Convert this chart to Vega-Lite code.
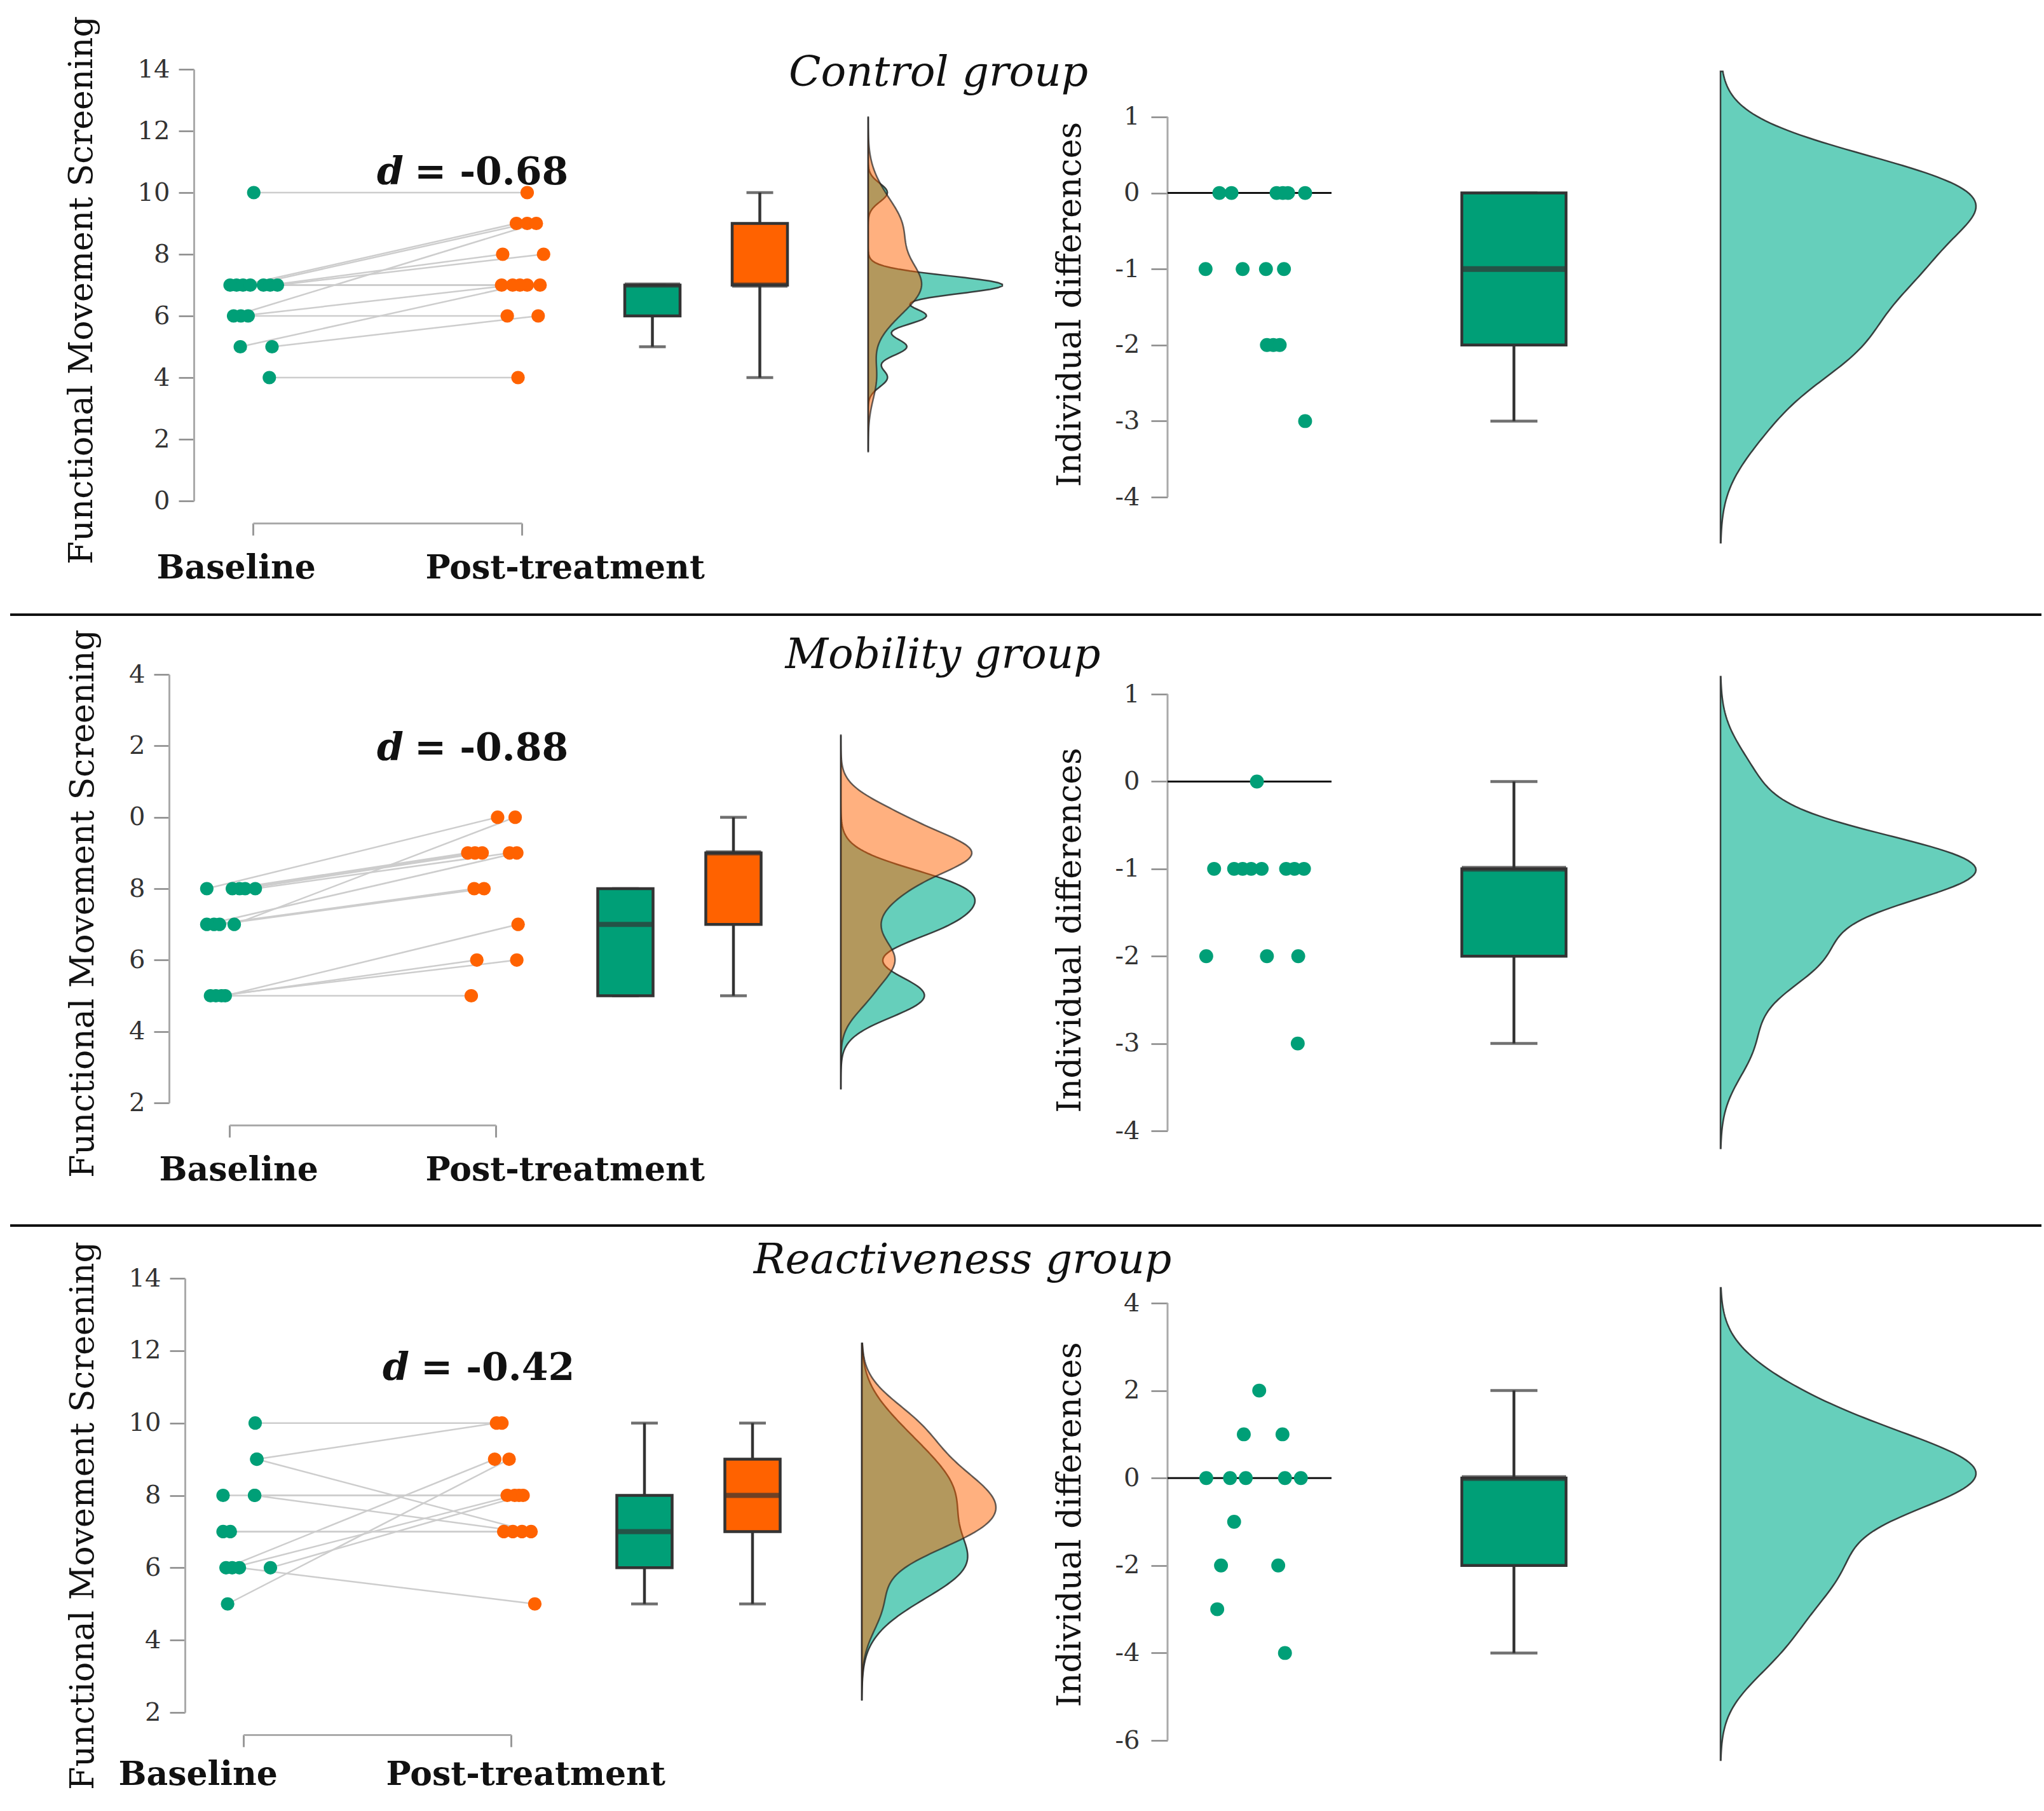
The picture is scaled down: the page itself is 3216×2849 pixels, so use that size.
{
"$schema": "https://vega.github.io/schema/vega-lite/v6.json",
"background": "white",
"padding": {"left": 14, "top": 0, "right": 0, "bottom": 0},
"config": {
 "view": {"stroke": null},
 "font": "DejaVu Serif",
 "axis": {"grid": false, "labelFont": "DejaVu Serif", "titleFont": "DejaVu Serif", "labelColor": "#333333", "titleColor": "#111111", "tickColor": "#888888", "tickWidth": 2.5, "domainColor": "#AAAAAA", "domainWidth": 3, "labelFlush": false, "labelOverlap": false, "labelBound": false, "labelLimit": 0},
 "axisY": {"labelFontSize": 40, "tickSize": 24, "labelPadding": 14, "titleFontSize": 52, "titleFontWeight": "normal", "titleAngle": -90, "titleBaseline": "middle", "titleAlign": "center"},
 "axisX": {"labelFontSize": 52, "labelFontWeight": "bold", "labelColor": "#111111", "labelPadding": 26, "tickSize": 19, "tickWidth": 3, "tickColor": "#999999", "labelAlign": "left"},
 "title": {"font": "DejaVu Serif", "fontSize": 66, "fontStyle": "italic", "fontWeight": "normal", "color": "#111111", "anchor": "middle"}
},
"datasets": {
 "ctrl": [
  {"id":"c1","time":"Baseline","x":1.003,"v":10},{"id":"c1","time":"Post","x":2.02,"v":10},
  {"id":"c2","time":"Baseline","x":1.061,"v":4},{"id":"c2","time":"Post","x":1.986,"v":4},
  {"id":"c3","time":"Baseline","x":0.915,"v":7},{"id":"c3","time":"Post","x":1.925,"v":7},
  {"id":"c4","time":"Baseline","x":0.939,"v":7},{"id":"c4","time":"Post","x":2.02,"v":7},
  {"id":"c5","time":"Baseline","x":0.982,"v":6},{"id":"c5","time":"Post","x":1.946,"v":6},
  {"id":"c6","time":"Baseline","x":1.039,"v":7},{"id":"c6","time":"Post","x":2.068,"v":7},
  {"id":"c7","time":"Baseline","x":1.064,"v":7},{"id":"c7","time":"Post","x":1.929,"v":8},
  {"id":"c8","time":"Baseline","x":0.955,"v":6},{"id":"c8","time":"Post","x":1.966,"v":7},
  {"id":"c9","time":"Baseline","x":1.071,"v":5},{"id":"c9","time":"Post","x":2.061,"v":6},
  {"id":"c10","time":"Baseline","x":1.091,"v":7},{"id":"c10","time":"Post","x":2.081,"v":8},
  {"id":"c11","time":"Baseline","x":0.963,"v":7},{"id":"c11","time":"Post","x":1.98,"v":9},
  {"id":"c12","time":"Baseline","x":0.99,"v":7},{"id":"c12","time":"Post","x":2.02,"v":9},
  {"id":"c13","time":"Baseline","x":0.953,"v":5},{"id":"c13","time":"Post","x":1.993,"v":7},
  {"id":"c14","time":"Baseline","x":0.928,"v":6},{"id":"c14","time":"Post","x":2.054,"v":9}
 ],
 "ctrlDiff": [
  {"id":"c1","x":0.316,"d":0},{"id":"c2","x":0.39,"d":0},{"id":"c3","x":0.665,"d":0},{"id":"c4","x":0.703,"d":0},{"id":"c5","x":0.735,"d":0},{"id":"c6","x":0.839,"d":0},
  {"id":"c7","x":0.232,"d":-1},{"id":"c8","x":0.458,"d":-1},{"id":"c9","x":0.6,"d":-1},{"id":"c10","x":0.71,"d":-1},
  {"id":"c11","x":0.606,"d":-2},{"id":"c12","x":0.645,"d":-2},{"id":"c13","x":0.684,"d":-2},{"id":"c14","x":0.839,"d":-3}
 ],
 "ctrlBox": [{"time":"Baseline","lo":5,"q1":6,"med":7,"q3":7,"hi":7},{"time":"Post","lo":4,"q1":7,"med":7,"q3":9,"hi":10}],
 "ctrlDiffBox": [{"g":"Differences","lo":-3,"q1":-2,"med":-1,"q3":0,"hi":0}],
 "mob": [
  {"id":"m1","time":"Baseline","x":0.915,"v":8},{"id":"m1","time":"Post","x":2.007,"v":10},
  {"id":"m2","time":"Baseline","x":1.011,"v":8},{"id":"m2","time":"Post","x":1.895,"v":9},
  {"id":"m3","time":"Baseline","x":1.038,"v":8},{"id":"m3","time":"Post","x":1.922,"v":9},
  {"id":"m4","time":"Baseline","x":1.059,"v":8},{"id":"m4","time":"Post","x":1.949,"v":9},
  {"id":"m5","time":"Baseline","x":1.097,"v":8},{"id":"m5","time":"Post","x":2.052,"v":9},
  {"id":"m6","time":"Baseline","x":1.018,"v":7},{"id":"m6","time":"Post","x":2.073,"v":10},
  {"id":"m7","time":"Baseline","x":0.915,"v":7},{"id":"m7","time":"Post","x":2.079,"v":9},
  {"id":"m8","time":"Baseline","x":0.942,"v":7},{"id":"m8","time":"Post","x":1.919,"v":8},
  {"id":"m9","time":"Baseline","x":0.963,"v":7},{"id":"m9","time":"Post","x":1.956,"v":8},
  {"id":"m10","time":"Baseline","x":0.984,"v":5},{"id":"m10","time":"Post","x":2.084,"v":7},
  {"id":"m11","time":"Baseline","x":0.97,"v":5},{"id":"m11","time":"Post","x":1.929,"v":6},
  {"id":"m12","time":"Baseline","x":0.949,"v":5},{"id":"m12","time":"Post","x":2.079,"v":6},
  {"id":"m13","time":"Baseline","x":0.929,"v":5},{"id":"m13","time":"Post","x":1.908,"v":5}
 ],
 "mobDiff": [
  {"id":"m13","x":0.545,"d":0},
  {"id":"m2","x":0.284,"d":-1},{"id":"m3","x":0.406,"d":-1},{"id":"m4","x":0.458,"d":-1},{"id":"m5","x":0.51,"d":-1},{"id":"m8","x":0.574,"d":-1},{"id":"m9","x":0.723,"d":-1},{"id":"m11","x":0.774,"d":-1},{"id":"m12","x":0.832,"d":-1},
  {"id":"m1","x":0.236,"d":-2},{"id":"m7","x":0.606,"d":-2},{"id":"m10","x":0.797,"d":-2},
  {"id":"m6","x":0.794,"d":-3}
 ],
 "mobBox": [{"time":"Baseline","lo":5,"q1":5,"med":7,"q3":8,"hi":8},{"time":"Post","lo":5,"q1":7,"med":9,"q3":9,"hi":10}],
 "mobDiffBox": [{"g":"Differences","lo":-3,"q1":-2,"med":-1,"q3":-1,"hi":0}],
 "reac": [
  {"id":"r1","time":"Baseline","x":1.044,"v":10},{"id":"r1","time":"Post","x":1.966,"v":10},
  {"id":"r2","time":"Baseline","x":1.05,"v":9},{"id":"r2","time":"Post","x":1.946,"v":10},
  {"id":"r3","time":"Baseline","x":1.05,"v":9},{"id":"r3","time":"Post","x":2.075,"v":7},
  {"id":"r4","time":"Baseline","x":0.924,"v":8},{"id":"r4","time":"Post","x":1.986,"v":8},
  {"id":"r5","time":"Baseline","x":1.042,"v":8},{"id":"r5","time":"Post","x":2.041,"v":7},
  {"id":"r6","time":"Baseline","x":1.042,"v":8},{"id":"r6","time":"Post","x":2.03,"v":8},
  {"id":"r7","time":"Baseline","x":0.924,"v":7},{"id":"r7","time":"Post","x":1.973,"v":7},
  {"id":"r8","time":"Baseline","x":0.951,"v":7},{"id":"r8","time":"Post","x":2.007,"v":7},
  {"id":"r9","time":"Baseline","x":0.935,"v":6},{"id":"r9","time":"Post","x":1.939,"v":9},
  {"id":"r10","time":"Baseline","x":0.958,"v":6},{"id":"r10","time":"Post","x":2.014,"v":8},
  {"id":"r11","time":"Baseline","x":1.101,"v":6},{"id":"r11","time":"Post","x":2.045,"v":8},
  {"id":"r12","time":"Baseline","x":0.941,"v":5},{"id":"r12","time":"Post","x":1.993,"v":9},
  {"id":"r13","time":"Baseline","x":0.985,"v":6},{"id":"r13","time":"Post","x":2.089,"v":5}
 ],
 "reacDiff": [
  {"id":"r3","x":0.559,"d":2},
  {"id":"r5","x":0.465,"d":1},{"id":"r13","x":0.701,"d":1},
  {"id":"r1","x":0.236,"d":0},{"id":"r4","x":0.381,"d":0},{"id":"r6","x":0.477,"d":0},{"id":"r7","x":0.716,"d":0},{"id":"r8","x":0.813,"d":0},
  {"id":"r2","x":0.406,"d":-1},
  {"id":"r10","x":0.326,"d":-2},{"id":"r11","x":0.675,"d":-2},
  {"id":"r9","x":0.303,"d":-3},
  {"id":"r12","x":0.716,"d":-4}
 ],
 "reacBox": [{"time":"Baseline","lo":5,"q1":6,"med":7,"q3":8,"hi":10},{"time":"Post","lo":5,"q1":7,"med":8,"q3":9,"hi":10}],
 "reacDiffBox": [{"g":"Differences","lo":-4,"q1":-2,"med":0,"q3":0,"hi":2}],
 "zero": [{"ref": 0}],
 "rng41": [{"lo": -4, "hi": 1}],
 "rng64": [{"lo": -6, "hi": 4}],
 "sep": [{"s": 0}],
 "blank": [{"a": 0}]
},
"spacing": 20,
"vconcat": [
 {"width": 3196, "height": 4, "data": {"name": "blank"}, "mark": {"type": "point", "opacity": 0, "size": 1}, "encoding": {"x": {"field": "a", "type": "quantitative", "axis": null}}},
 {"hconcat": [
  {"width": 382, "height": 1, "data": {"name": "blank"}, "mark": {"type": "point", "opacity": 0, "size": 1}, "encoding": {"x": {"field": "a", "type": "quantitative", "axis": null}},
   "title": {"text": "d", "anchor": "end", "frame": "group", "dx": 237, "offset": -194, "fontStyle": "italic", "fontWeight": "bold", "fontSize": 60}},
  {"width": 423, "height": 679, "data": {"name": "ctrl"}, "layer": [
   {"mark": {"type": "line", "color": "#CDCDCD", "strokeWidth": 2.5},
    "encoding": {
     "x": {"field": "x", "type": "quantitative", "scale": {"domain": [1, 2], "nice": false, "zero": false},
       "axis": {"values": [1, 2], "offset": 35, "labelExpr": "datum.value == 1 ? 'Baseline' : 'Post-treatment'", "labelOffset": -152, "title": null}},
     "y": {"field": "v", "type": "quantitative", "scale": {"domain": [0, 14], "nice": false, "zero": false},
       "axis": {"values": [0, 2, 4, 6, 8, 10, 12, 14], "labelExpr": "toString(datum.value)", "offset": 93, "title": "Functional Movement Screening", "titleX": -177, "titleY": 347}},
     "detail": {"field": "id", "type": "nominal"},
     "order": {"field": "x", "type": "quantitative"}}},
   {"mark": {"type": "circle", "size": 450, "opacity": 1},
    "encoding": {"x": {"field": "x", "type": "quantitative"}, "y": {"field": "v", "type": "quantitative"},
     "color": {"field": "time", "type": "nominal", "scale": {"domain": ["Baseline", "Post"], "range": ["#009F77", "#FF6200"]}, "legend": null}}}
  ]},
  {"width": 121, "height": 1, "data": {"name": "blank"}, "mark": {"type": "point", "opacity": 0, "size": 1}, "encoding": {"x": {"field": "a", "type": "quantitative", "axis": null}},
   "title": {"text": "= -0.68", "anchor": "start", "frame": "group", "dx": -169, "offset": -194, "fontStyle": "normal", "fontWeight": "bold", "fontSize": 60}},
  {"width": 338, "height": 679, "data": {"name": "ctrlBox"},
   "encoding": {"x": {"field": "time", "type": "nominal", "scale": {"type": "band", "domain": ["Baseline", "Post"], "paddingInner": 0.4852, "paddingOuter": 0.2426}, "axis": null}},
   "layer": [
    {"mark": {"type": "rule", "color": "#333333", "strokeWidth": 4.5}, "encoding": {"y": {"field": "lo", "type": "quantitative", "scale": {"domain": [0, 14], "nice": false, "zero": false}, "axis": null}, "y2": {"field": "hi"}}},
    {"mark": {"type": "tick", "color": "#333333", "thickness": 4.5, "size": 42}, "encoding": {"y": {"field": "lo", "type": "quantitative"}}},
    {"mark": {"type": "tick", "color": "#333333", "thickness": 4.5, "size": 42}, "encoding": {"y": {"field": "hi", "type": "quantitative"}}},
    {"mark": {"type": "bar", "stroke": "#333333", "strokeWidth": 4.5}, "encoding": {"y": {"field": "q1", "type": "quantitative"}, "y2": {"field": "q3"}, "color": {"field": "time", "type": "nominal", "scale": {"domain": ["Baseline", "Post"], "range": ["#009F77", "#FF6200"]}, "legend": null}}},
    {"mark": {"type": "tick", "color": "#333333", "thickness": 8, "size": 87}, "encoding": {"y": {"field": "med", "type": "quantitative"}}}
   ]},
  {"width": 86, "height": 1, "data": {"name": "blank"}, "mark": {"type": "point", "opacity": 0, "size": 1}, "encoding": {"x": {"field": "a", "type": "quantitative", "axis": null}}},
  {"width": 211, "height": 679, "data": {"name": "ctrl"},
   "title": {"text": "Control group", "offset": -40, "dx": 5},
   "layer": [
    {"transform": [{"filter": "datum.time == 'Baseline'"}, {"density": "v", "bandwidth": 0.3, "extent": [1.6, 12.45], "steps": 200, "as": ["v", "dens"]}],
     "mark": {"type": "area", "orient": "horizontal", "fill": "#00AF8E", "fillOpacity": 0.6, "stroke": "#222222", "strokeWidth": 2.5, "strokeOpacity": 0.85},
     "encoding": {"x": {"field": "dens", "type": "quantitative", "scale": {"zero": true, "nice": false}, "axis": null}, "y": {"field": "v", "type": "quantitative", "scale": {"domain": [0, 14], "nice": false, "zero": false}, "axis": null}}},
    {"transform": [{"filter": "datum.time == 'Post'"}, {"density": "v", "bandwidth": 0.7, "extent": [1.6, 12.45], "steps": 200, "as": ["v", "dens"]}],
     "mark": {"type": "area", "orient": "horizontal", "fill": "#FF6200", "fillOpacity": 0.5, "stroke": "#222222", "strokeWidth": 2.5, "strokeOpacity": 0.7},
     "encoding": {"x": {"field": "dens", "type": "quantitative"}, "y": {"field": "v", "type": "quantitative"}}}
   ]},
  {"width": 260, "height": 1, "data": {"name": "blank"}, "mark": {"type": "point", "opacity": 0, "size": 1}, "encoding": {"x": {"field": "a", "type": "quantitative", "axis": null}}},
  {"width": 258, "height": 673, "layer": [
    {"data": {"name": "rng41"}, "mark": {"type": "rule", "color": "#AAAAAA", "strokeWidth": 3}, "encoding": {"x": {"value": 0}, "y": {"field": "lo", "type": "quantitative", "scale": {"domain": [-4, 1.627], "nice": false, "zero": false}, "axis": {"values": [-4, -3, -2, -1, 0, 1], "labelExpr": "toString(datum.value)", "domain": false, "tickSize": 26, "labelPadding": 18, "title": "Individual differences", "titleX": -154, "titleY": 369.5}}, "y2": {"field": "hi"}}},
    {"data": {"name": "zero"}, "mark": {"type": "rule", "color": "#111111", "strokeWidth": 3}, "encoding": {"y": {"field": "ref", "type": "quantitative"}}},
    {"data": {"name": "ctrlDiff"}, "mark": {"type": "circle", "size": 480, "opacity": 1, "color": "#009F77"},
     "encoding": {"x": {"field": "x", "type": "quantitative", "scale": {"domain": [0, 1], "nice": false, "zero": false}, "axis": null},
      "y": {"field": "d", "type": "quantitative"}}}
  ]},
  {"width": 137, "height": 1, "data": {"name": "blank"}, "mark": {"type": "point", "opacity": 0, "size": 1}, "encoding": {"x": {"field": "a", "type": "quantitative", "axis": null}}},
  {"width": 300, "height": 673, "data": {"name": "ctrlDiffBox"},
   "encoding": {"x": {"field": "g", "type": "nominal", "scale": {"type": "band", "paddingInner": 0, "paddingOuter": 0.4146}, "axis": null}},
   "layer": [
    {"mark": {"type": "rule", "color": "#333333", "strokeWidth": 4.5}, "encoding": {"y": {"field": "lo", "type": "quantitative", "scale": {"domain": [-4, 1.627], "nice": false, "zero": false}, "axis": null}, "y2": {"field": "hi"}}},
    {"mark": {"type": "tick", "color": "#333333", "thickness": 4.5, "size": 74}, "encoding": {"y": {"field": "lo", "type": "quantitative"}}},
    {"mark": {"type": "tick", "color": "#333333", "thickness": 4.5, "size": 74}, "encoding": {"y": {"field": "hi", "type": "quantitative"}}},
    {"mark": {"type": "bar", "stroke": "#333333", "strokeWidth": 4.5, "color": "#009F77"}, "encoding": {"y": {"field": "q1", "type": "quantitative"}, "y2": {"field": "q3"}}},
    {"mark": {"type": "tick", "color": "#333333", "thickness": 9, "size": 164}, "encoding": {"y": {"field": "med", "type": "quantitative"}}}
   ]},
  {"width": 175, "height": 1, "data": {"name": "blank"}, "mark": {"type": "point", "opacity": 0, "size": 1}, "encoding": {"x": {"field": "a", "type": "quantitative", "axis": null}}},
  {"width": 402, "height": 673, "data": {"name": "ctrlDiff"},
   "transform": [{"density": "d", "bandwidth": 0.53, "extent": [-4.6, 1.6], "steps": 200, "as": ["d", "dens"]}],
   "mark": {"type": "area", "orient": "horizontal", "fill": "#00AF8E", "fillOpacity": 0.6, "stroke": "#222222", "strokeWidth": 2.5, "strokeOpacity": 0.85},
   "encoding": {"x": {"field": "dens", "type": "quantitative", "scale": {"zero": true, "nice": false}, "axis": null}, "y": {"field": "d", "type": "quantitative", "scale": {"domain": [-4, 1.627], "nice": false, "zero": false}, "axis": null}}}
 ], "spacing": 0, "bounds": "flush"},
 {"width": 3196, "height": 28, "data": {"name": "sep"}, "mark": {"type": "rule", "color": "#111111", "strokeWidth": 4}, "encoding": {"y": {"field": "s", "type": "quantitative", "scale": {"domain": [0, 1]}, "axis": null}}},
 {"hconcat": [
  {"width": 345, "height": 1, "data": {"name": "blank"}, "mark": {"type": "point", "opacity": 0, "size": 1}, "encoding": {"x": {"field": "a", "type": "quantitative", "axis": null}},
   "title": {"text": "d", "anchor": "end", "frame": "group", "dx": 274, "offset": -148, "fontStyle": "italic", "fontWeight": "bold", "fontSize": 60}},
  {"width": 419, "height": 674, "data": {"name": "mob"}, "layer": [
   {"mark": {"type": "line", "color": "#CDCDCD", "strokeWidth": 2.5},
    "encoding": {
     "x": {"field": "x", "type": "quantitative", "scale": {"domain": [1, 2], "nice": false, "zero": false},
       "axis": {"values": [1, 2], "offset": 35, "labelExpr": "datum.value == 1 ? 'Baseline' : 'Post-treatment'", "labelOffset": -111, "title": null}},
     "y": {"field": "v", "type": "quantitative", "scale": {"domain": [2, 14], "nice": false, "zero": false},
       "axis": {"values": [2, 4, 6, 8, 10, 12, 14], "labelExpr": "datum.value >= 10 ? toString(datum.value - 10) : toString(datum.value)", "offset": 95, "title": "Functional Movement Screening", "titleX": -136, "titleY": 360}},
     "detail": {"field": "id", "type": "nominal"},
     "order": {"field": "x", "type": "quantitative"}}},
   {"mark": {"type": "circle", "size": 450, "opacity": 1},
    "encoding": {"x": {"field": "x", "type": "quantitative"}, "y": {"field": "v", "type": "quantitative"},
     "color": {"field": "time", "type": "nominal", "scale": {"domain": ["Baseline", "Post"], "range": ["#009F77", "#FF6200"]}, "legend": null}}}
  ]},
  {"width": 119, "height": 1, "data": {"name": "blank"}, "mark": {"type": "point", "opacity": 0, "size": 1}, "encoding": {"x": {"field": "a", "type": "quantitative", "axis": null}},
   "title": {"text": "= -0.88", "anchor": "start", "frame": "group", "dx": -128, "offset": -148, "fontStyle": "normal", "fontWeight": "bold", "fontSize": 60}},
  {"width": 340, "height": 674, "data": {"name": "mobBox"},
   "encoding": {"x": {"field": "time", "type": "nominal", "scale": {"type": "band", "domain": ["Baseline", "Post"], "paddingInner": 0.4882, "paddingOuter": 0.2441}, "axis": null}},
   "layer": [
    {"mark": {"type": "rule", "color": "#333333", "strokeWidth": 4.5}, "encoding": {"y": {"field": "lo", "type": "quantitative", "scale": {"domain": [2, 14], "nice": false, "zero": false}, "axis": null}, "y2": {"field": "hi"}}},
    {"mark": {"type": "tick", "color": "#333333", "thickness": 4.5, "size": 42}, "encoding": {"y": {"field": "lo", "type": "quantitative"}}},
    {"mark": {"type": "tick", "color": "#333333", "thickness": 4.5, "size": 42}, "encoding": {"y": {"field": "hi", "type": "quantitative"}}},
    {"mark": {"type": "bar", "stroke": "#333333", "strokeWidth": 4.5}, "encoding": {"y": {"field": "q1", "type": "quantitative"}, "y2": {"field": "q3"}, "color": {"field": "time", "type": "nominal", "scale": {"domain": ["Baseline", "Post"], "range": ["#009F77", "#FF6200"]}, "legend": null}}},
    {"mark": {"type": "tick", "color": "#333333", "thickness": 8, "size": 87}, "encoding": {"y": {"field": "med", "type": "quantitative"}}}
   ]},
  {"width": 84, "height": 1, "data": {"name": "blank"}, "mark": {"type": "point", "opacity": 0, "size": 1}, "encoding": {"x": {"field": "a", "type": "quantitative", "axis": null}}},
  {"width": 211, "height": 674, "data": {"name": "mob"},
   "title": {"text": "Mobility group", "offset": -4, "dx": 55},
   "layer": [
    {"transform": [{"filter": "datum.time == 'Baseline'"}, {"density": "v", "bandwidth": 0.6, "extent": [2.4, 12.3], "steps": 200, "as": ["v", "dens"]}],
     "mark": {"type": "area", "orient": "horizontal", "fill": "#00AF8E", "fillOpacity": 0.6, "stroke": "#222222", "strokeWidth": 2.5, "strokeOpacity": 0.85},
     "encoding": {"x": {"field": "dens", "type": "quantitative", "scale": {"zero": true, "nice": false}, "axis": null}, "y": {"field": "v", "type": "quantitative", "scale": {"domain": [2, 14], "nice": false, "zero": false}, "axis": null}}},
    {"transform": [{"filter": "datum.time == 'Post'"}, {"density": "v", "bandwidth": 0.55, "extent": [2.4, 12.3], "steps": 200, "as": ["v", "dens"]}],
     "mark": {"type": "area", "orient": "horizontal", "fill": "#FF6200", "fillOpacity": 0.5, "stroke": "#222222", "strokeWidth": 2.5, "strokeOpacity": 0.7},
     "encoding": {"x": {"field": "dens", "type": "quantitative"}, "y": {"field": "v", "type": "quantitative"}}}
   ]},
  {"width": 303, "height": 1, "data": {"name": "blank"}, "mark": {"type": "point", "opacity": 0, "size": 1}, "encoding": {"x": {"field": "a", "type": "quantitative", "axis": null}}},
  {"width": 258, "height": 718, "layer": [
    {"data": {"name": "rng41"}, "mark": {"type": "rule", "color": "#AAAAAA", "strokeWidth": 3}, "encoding": {"x": {"value": 0}, "y": {"field": "lo", "type": "quantitative", "scale": {"domain": [-4, 1.226], "nice": false, "zero": false}, "axis": {"values": [-4, -3, -2, -1, 0, 1], "labelExpr": "toString(datum.value)", "domain": false, "tickSize": 26, "labelPadding": 18, "title": "Individual differences", "titleX": -154, "titleY": 402}}, "y2": {"field": "hi"}}},
    {"data": {"name": "zero"}, "mark": {"type": "rule", "color": "#111111", "strokeWidth": 3}, "encoding": {"y": {"field": "ref", "type": "quantitative"}}},
    {"data": {"name": "mobDiff"}, "mark": {"type": "circle", "size": 480, "opacity": 1, "color": "#009F77"},
     "encoding": {"x": {"field": "x", "type": "quantitative", "scale": {"domain": [0, 1], "nice": false, "zero": false}, "axis": null},
      "y": {"field": "d", "type": "quantitative"}}}
  ]},
  {"width": 137, "height": 1, "data": {"name": "blank"}, "mark": {"type": "point", "opacity": 0, "size": 1}, "encoding": {"x": {"field": "a", "type": "quantitative", "axis": null}}},
  {"width": 300, "height": 718, "data": {"name": "mobDiffBox"},
   "encoding": {"x": {"field": "g", "type": "nominal", "scale": {"type": "band", "paddingInner": 0, "paddingOuter": 0.4146}, "axis": null}},
   "layer": [
    {"mark": {"type": "rule", "color": "#333333", "strokeWidth": 4.5}, "encoding": {"y": {"field": "lo", "type": "quantitative", "scale": {"domain": [-4, 1.226], "nice": false, "zero": false}, "axis": null}, "y2": {"field": "hi"}}},
    {"mark": {"type": "tick", "color": "#333333", "thickness": 4.5, "size": 74}, "encoding": {"y": {"field": "lo", "type": "quantitative"}}},
    {"mark": {"type": "tick", "color": "#333333", "thickness": 4.5, "size": 74}, "encoding": {"y": {"field": "hi", "type": "quantitative"}}},
    {"mark": {"type": "bar", "stroke": "#333333", "strokeWidth": 4.5, "color": "#009F77"}, "encoding": {"y": {"field": "q1", "type": "quantitative"}, "y2": {"field": "q3"}}},
    {"mark": {"type": "tick", "color": "#333333", "thickness": 9, "size": 164}, "encoding": {"y": {"field": "med", "type": "quantitative"}}}
   ]},
  {"width": 175, "height": 1, "data": {"name": "blank"}, "mark": {"type": "point", "opacity": 0, "size": 1}, "encoding": {"x": {"field": "a", "type": "quantitative", "axis": null}}},
  {"width": 402, "height": 718, "data": {"name": "mobDiff"},
   "transform": [{"density": "d", "bandwidth": 0.4, "extent": [-4.2, 1.2], "steps": 200, "as": ["d", "dens"]}],
   "mark": {"type": "area", "orient": "horizontal", "fill": "#00AF8E", "fillOpacity": 0.6, "stroke": "#222222", "strokeWidth": 2.5, "strokeOpacity": 0.85},
   "encoding": {"x": {"field": "dens", "type": "quantitative", "scale": {"zero": true, "nice": false}, "axis": null}, "y": {"field": "d", "type": "quantitative", "scale": {"domain": [-4, 1.226], "nice": false, "zero": false}, "axis": null}}}
 ], "spacing": 0, "bounds": "flush"},
 {"width": 3196, "height": 42, "data": {"name": "sep"}, "mark": {"type": "rule", "color": "#111111", "strokeWidth": 4}, "encoding": {"y": {"field": "s", "type": "quantitative", "scale": {"domain": [0, 1]}, "axis": null}}},
 {"hconcat": [
  {"width": 367, "height": 1, "data": {"name": "blank"}, "mark": {"type": "point", "opacity": 0, "size": 1}, "encoding": {"x": {"field": "a", "type": "quantitative", "axis": null}},
   "title": {"text": "d", "anchor": "end", "frame": "group", "dx": 261, "offset": -173, "fontStyle": "italic", "fontWeight": "bold", "fontSize": 60}},
  {"width": 421, "height": 683, "data": {"name": "reac"}, "layer": [
   {"mark": {"type": "line", "color": "#CDCDCD", "strokeWidth": 2.5},
    "encoding": {
     "x": {"field": "x", "type": "quantitative", "scale": {"domain": [1, 2], "nice": false, "zero": false},
       "axis": {"values": [1, 2], "offset": 35, "labelPadding": 18, "labelExpr": "datum.value == 1 ? 'Baseline' : 'Post-treatment'", "labelOffset": -197, "title": null}},
     "y": {"field": "v", "type": "quantitative", "scale": {"domain": [2, 14], "nice": false, "zero": false},
       "axis": {"values": [2, 4, 6, 8, 10, 12, 14], "labelExpr": "toString(datum.value)", "offset": 92, "title": "Functional Movement Screening", "titleX": -161, "titleY": 373}},
     "detail": {"field": "id", "type": "nominal"},
     "order": {"field": "x", "type": "quantitative"}}},
   {"mark": {"type": "circle", "size": 450, "opacity": 1},
    "encoding": {"x": {"field": "x", "type": "quantitative"}, "y": {"field": "v", "type": "quantitative"},
     "color": {"field": "time", "type": "nominal", "scale": {"domain": ["Baseline", "Post"], "range": ["#009F77", "#FF6200"]}, "legend": null}}}
  ]},
  {"width": 125, "height": 1, "data": {"name": "blank"}, "mark": {"type": "point", "opacity": 0, "size": 1}, "encoding": {"x": {"field": "a", "type": "quantitative", "axis": null}},
   "title": {"text": "= -0.42", "anchor": "start", "frame": "group", "dx": -142, "offset": -173, "fontStyle": "normal", "fontWeight": "bold", "fontSize": 60}},
  {"width": 340, "height": 683, "data": {"name": "reacBox"},
   "encoding": {"x": {"field": "time", "type": "nominal", "scale": {"type": "band", "domain": ["Baseline", "Post"], "paddingInner": 0.4882, "paddingOuter": 0.2441}, "axis": null}},
   "layer": [
    {"mark": {"type": "rule", "color": "#333333", "strokeWidth": 4.5}, "encoding": {"y": {"field": "lo", "type": "quantitative", "scale": {"domain": [2, 14], "nice": false, "zero": false}, "axis": null}, "y2": {"field": "hi"}}},
    {"mark": {"type": "tick", "color": "#333333", "thickness": 4.5, "size": 42}, "encoding": {"y": {"field": "lo", "type": "quantitative"}}},
    {"mark": {"type": "tick", "color": "#333333", "thickness": 4.5, "size": 42}, "encoding": {"y": {"field": "hi", "type": "quantitative"}}},
    {"mark": {"type": "bar", "stroke": "#333333", "strokeWidth": 4.5}, "encoding": {"y": {"field": "q1", "type": "quantitative"}, "y2": {"field": "q3"}, "color": {"field": "time", "type": "nominal", "scale": {"domain": ["Baseline", "Post"], "range": ["#009F77", "#FF6200"]}, "legend": null}}},
    {"mark": {"type": "tick", "color": "#333333", "thickness": 8, "size": 87}, "encoding": {"y": {"field": "med", "type": "quantitative"}}}
   ]},
  {"width": 87, "height": 1, "data": {"name": "blank"}, "mark": {"type": "point", "opacity": 0, "size": 1}, "encoding": {"x": {"field": "a", "type": "quantitative", "axis": null}}},
  {"width": 211, "height": 683, "data": {"name": "reac"},
   "title": {"text": "Reactiveness group", "offset": -6, "dx": 53},
   "layer": [
    {"transform": [{"filter": "datum.time == 'Baseline'"}, {"density": "v", "bandwidth": 0.8, "extent": [2.35, 12.2], "steps": 200, "as": ["v", "dens"]}],
     "mark": {"type": "area", "orient": "horizontal", "fill": "#00AF8E", "fillOpacity": 0.6, "stroke": "#222222", "strokeWidth": 2.5, "strokeOpacity": 0.85},
     "encoding": {"x": {"field": "dens", "type": "quantitative", "scale": {"zero": true, "nice": false}, "axis": null}, "y": {"field": "v", "type": "quantitative", "scale": {"domain": [2, 14], "nice": false, "zero": false}, "axis": null}}},
    {"transform": [{"filter": "datum.time == 'Post'"}, {"density": "v", "bandwidth": 0.75, "extent": [2.35, 12.2], "steps": 200, "as": ["v", "dens"]}],
     "mark": {"type": "area", "orient": "horizontal", "fill": "#FF6200", "fillOpacity": 0.5, "stroke": "#222222", "strokeWidth": 2.5, "strokeOpacity": 0.7},
     "encoding": {"x": {"field": "dens", "type": "quantitative"}, "y": {"field": "v", "type": "quantitative"}}}
   ]},
  {"width": 270, "height": 1, "data": {"name": "blank"}, "mark": {"type": "point", "opacity": 0, "size": 1}, "encoding": {"x": {"field": "a", "type": "quantitative", "axis": null}}},
  {"width": 258, "height": 727, "layer": [
    {"data": {"name": "rng64"}, "mark": {"type": "rule", "color": "#AAAAAA", "strokeWidth": 3}, "encoding": {"x": {"value": 0}, "y": {"field": "lo", "type": "quantitative", "scale": {"domain": [-6, 4.567], "nice": false, "zero": false}, "axis": {"values": [-6, -4, -2, 0, 2, 4], "labelExpr": "toString(datum.value)", "domain": false, "tickSize": 26, "labelPadding": 18, "title": "Individual differences", "titleX": -154, "titleY": 387}}, "y2": {"field": "hi"}}},
    {"data": {"name": "zero"}, "mark": {"type": "rule", "color": "#111111", "strokeWidth": 3}, "encoding": {"y": {"field": "ref", "type": "quantitative"}}},
    {"data": {"name": "reacDiff"}, "mark": {"type": "circle", "size": 480, "opacity": 1, "color": "#009F77"},
     "encoding": {"x": {"field": "x", "type": "quantitative", "scale": {"domain": [0, 1], "nice": false, "zero": false}, "axis": null},
      "y": {"field": "d", "type": "quantitative"}}}
  ]},
  {"width": 137, "height": 1, "data": {"name": "blank"}, "mark": {"type": "point", "opacity": 0, "size": 1}, "encoding": {"x": {"field": "a", "type": "quantitative", "axis": null}}},
  {"width": 300, "height": 727, "data": {"name": "reacDiffBox"},
   "encoding": {"x": {"field": "g", "type": "nominal", "scale": {"type": "band", "paddingInner": 0, "paddingOuter": 0.4146}, "axis": null}},
   "layer": [
    {"mark": {"type": "rule", "color": "#333333", "strokeWidth": 4.5}, "encoding": {"y": {"field": "lo", "type": "quantitative", "scale": {"domain": [-6, 4.567], "nice": false, "zero": false}, "axis": null}, "y2": {"field": "hi"}}},
    {"mark": {"type": "tick", "color": "#333333", "thickness": 4.5, "size": 74}, "encoding": {"y": {"field": "lo", "type": "quantitative"}}},
    {"mark": {"type": "tick", "color": "#333333", "thickness": 4.5, "size": 74}, "encoding": {"y": {"field": "hi", "type": "quantitative"}}},
    {"mark": {"type": "bar", "stroke": "#333333", "strokeWidth": 4.5, "color": "#009F77"}, "encoding": {"y": {"field": "q1", "type": "quantitative"}, "y2": {"field": "q3"}}},
    {"mark": {"type": "tick", "color": "#333333", "thickness": 9, "size": 164}, "encoding": {"y": {"field": "med", "type": "quantitative"}}}
   ]},
  {"width": 175, "height": 1, "data": {"name": "blank"}, "mark": {"type": "point", "opacity": 0, "size": 1}, "encoding": {"x": {"field": "a", "type": "quantitative", "axis": null}}},
  {"width": 402, "height": 727, "data": {"name": "reacDiff"},
   "transform": [{"density": "d", "bandwidth": 0.8, "extent": [-6.45, 4.35], "steps": 200, "as": ["d", "dens"]}],
   "mark": {"type": "area", "orient": "horizontal", "fill": "#00AF8E", "fillOpacity": 0.6, "stroke": "#222222", "strokeWidth": 2.5, "strokeOpacity": 0.85},
   "encoding": {"x": {"field": "dens", "type": "quantitative", "scale": {"zero": true, "nice": false}, "axis": null}, "y": {"field": "d", "type": "quantitative", "scale": {"domain": [-6, 4.567], "nice": false, "zero": false}, "axis": null}}}
 ], "spacing": 0, "bounds": "flush"}
]
}
